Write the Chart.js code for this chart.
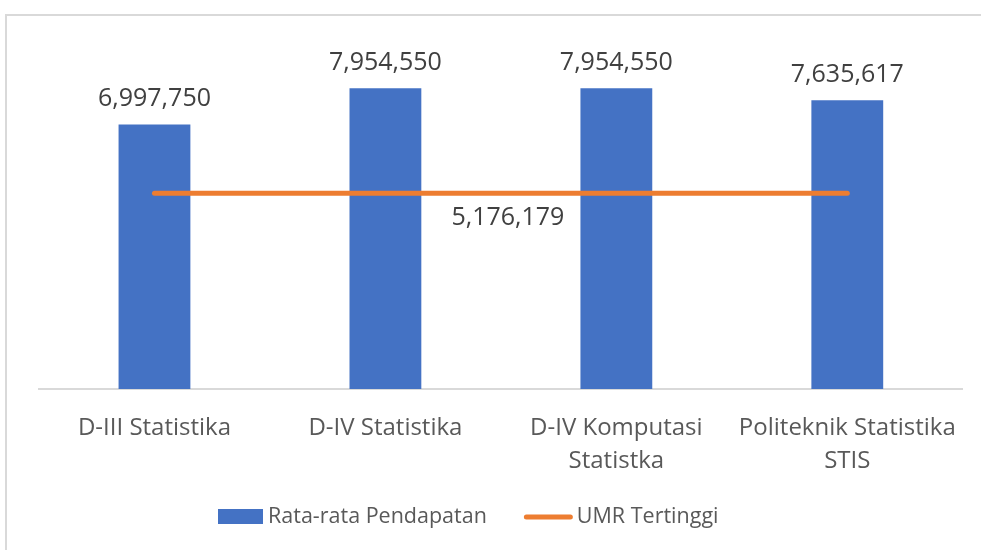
<!DOCTYPE html>
<html>
<head>
<meta charset="utf-8">
<script src="https://cdn.jsdelivr.net/npm/chart.js@4.4.1/dist/chart.umd.min.js"></script>
<style>
  html, body { margin: 0; padding: 0; background: #fff; overflow: hidden; }
  #frame { position: absolute; left: 5px; top: 14px; width: 1000px; height: 600px;
           border-top: 2px solid #d9d9d9; border-left: 2px solid #d9d9d9; }
  #wrap { position: absolute; left: 0; top: 0; width: 981px; height: 550px; }
</style>
</head>
<body>
<div id="frame"></div>
<div id="wrap"><canvas id="c" width="981" height="550"></canvas></div>
<script>
const categories = [
  'D-III Statistika',
  'D-IV Statistika',
  ['D-IV Komputasi', 'Statistka'],
  ['Politeknik Statistika', 'STIS']
];
const seriesNames = ['Rata-rata Pendapatan', 'UMR Tertinggi'];
const avgIncome = [6997750, 7954550, 7954550, 7635617];
const umr = [5176179, 5176179, 5176179, 5176179];
const umrLabelValue = '5,176,179';

const BLUE = '#4472C4';
const ORANGE = '#ED7D31';
const FONT = "'Open Sans', sans-serif";

const fmt = v => v.toLocaleString('en-US');

const labelPlugin = {
  id: 'valueLabels',
  afterDatasetsDraw(chart) {
    const ctx = chart.ctx;
    ctx.save();
    ctx.font = "25px " + FONT;
    ctx.fillStyle = '#404040';
    ctx.textAlign = 'center';
    ctx.textBaseline = 'alphabetic';
    const barMeta = chart.getDatasetMeta(0);
    barMeta.data.forEach((el, i) => {
      ctx.fillText(fmt(avgIncome[i]), el.x, el.y - 18);
    });
    const lineMeta = chart.getDatasetMeta(1);
    const p1 = lineMeta.data[1], p2 = lineMeta.data[2];
    ctx.fillText(umrLabelValue, (p1.x + p2.x) / 2 + 7, p1.y + 32);
    ctx.restore();
  }
};

const legendPlugin = {
  id: 'customLegend',
  afterDraw(chart) {
    const ctx = chart.ctx;
    ctx.save();
    ctx.font = "21.5px " + FONT;
    ctx.textBaseline = 'middle';
    ctx.textAlign = 'left';
    const cy = 517;
    let x = 218;
    ctx.fillStyle = BLUE;
    ctx.fillRect(x, cy - 8, 45, 15);
    x += 45 + 5;
    ctx.fillStyle = '#595959';
    ctx.fillText(seriesNames[0], x, cy);
    x += ctx.measureText(seriesNames[0]).width + 37;
    ctx.strokeStyle = ORANGE;
    ctx.lineWidth = 5;
    ctx.lineCap = 'round';
    ctx.beginPath();
    ctx.moveTo(x + 2.5, cy);
    ctx.lineTo(x + 46.5, cy);
    ctx.stroke();
    x += 49 + 4;
    ctx.fillStyle = '#595959';
    ctx.fillText(seriesNames[1], x, cy);
    ctx.restore();
  }
};

new Chart(document.getElementById('c'), {
  type: 'bar',
  data: {
    labels: categories,
    datasets: [
      {
        type: 'bar',
        label: seriesNames[0],
        data: avgIncome,
        backgroundColor: BLUE,
        borderWidth: 0,
        categoryPercentage: 1.0,
        barPercentage: 0.311,
        order: 2
      },
      {
        type: 'line',
        label: seriesNames[1],
        data: umr,
        borderColor: ORANGE,
        backgroundColor: ORANGE,
        borderWidth: 5,
        borderCapStyle: 'round',
        pointRadius: 0,
        pointHoverRadius: 0,
        fill: false,
        order: 1
      }
    ]
  },
  options: {
    responsive: false,
    animation: false,
    events: [],
    layout: { padding: { left: 39, right: 18, top: 11, bottom: 49 } },
    scales: {
      y: {
        display: false,
        min: 0,
        max: 10000000
      },
      x: {
        offset: true,
        grid: { display: false, drawTicks: false },
        border: { display: true, color: '#d9d9d9', width: 2 },
        ticks: {
          color: '#595959',
          font: { family: FONT, size: 24, lineHeight: 1.375 },
          padding: 23,
          maxRotation: 0,
          autoSkip: false
        }
      }
    },
    plugins: {
      tooltip: { enabled: false },
      legend: { display: false }
    }
  },
  plugins: [labelPlugin, legendPlugin]
});
</script>
</body>
</html>
